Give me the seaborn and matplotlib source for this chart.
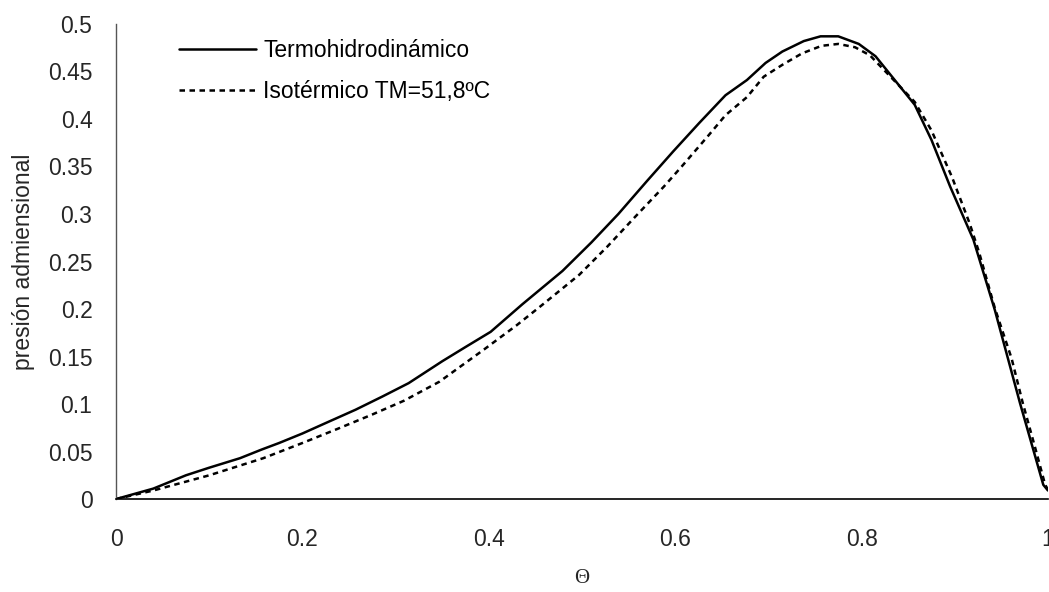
import seaborn as sns
import pandas as pd
import matplotlib.pyplot as plt

# solid curve: thermohydrodynamic solution
theta_thd = [0.0, 0.04, 0.075, 0.10, 0.133, 0.156, 0.175, 0.20, 0.225, 0.257,
             0.286, 0.314, 0.35, 0.375, 0.402, 0.436, 0.479, 0.51, 0.539, 0.57,
             0.598, 0.626, 0.654, 0.677, 0.697, 0.715, 0.738, 0.756, 0.775,
             0.797, 0.815, 0.857, 0.875, 0.895, 0.92, 0.943, 0.97, 0.995, 1.0]
p_thd = [0.0, 0.011, 0.025, 0.033, 0.043, 0.052, 0.059, 0.069, 0.080, 0.094,
         0.108, 0.122, 0.145, 0.160, 0.176, 0.205, 0.240, 0.270, 0.300, 0.335,
         0.366, 0.396, 0.425, 0.441, 0.459, 0.471, 0.482, 0.487, 0.487,
         0.479, 0.466, 0.415, 0.378, 0.329, 0.273, 0.199, 0.101, 0.015, 0.009]

# dashed curve: isothermal solution
theta_iso = [0.0, 0.04, 0.10, 0.158, 0.20, 0.238, 0.275, 0.309, 0.347, 0.395,
             0.43, 0.455, 0.497, 0.527, 0.557, 0.588, 0.607, 0.636, 0.654,
             0.677, 0.695, 0.715, 0.736, 0.757, 0.775, 0.793, 0.809, 0.857,
             0.875, 0.897, 0.916, 0.926, 0.943, 0.961, 0.973, 0.986, 0.997, 1.0]
p_iso = [0.0, 0.009, 0.025, 0.043, 0.059, 0.074, 0.089, 0.1035, 0.1235, 0.1575,
         0.183, 0.2025, 0.236, 0.2655, 0.297, 0.329, 0.350, 0.383, 0.404,
         0.423, 0.4445, 0.457, 0.469, 0.477, 0.479, 0.4755, 0.467, 0.418,
         0.388, 0.339, 0.29, 0.26, 0.201, 0.148, 0.101, 0.055, 0.015, 0.01]

label_thd = 'Termohidrodinámico'
label_iso = 'Isotérmico TM=51,8ºC'

df = pd.concat([
    pd.DataFrame({'theta': theta_thd, 'p': p_thd, 'serie': label_thd}),
    pd.DataFrame({'theta': theta_iso, 'p': p_iso, 'serie': label_iso}),
])

sns.set_style('white')
plt.rcParams['font.family'] = ['Liberation Sans', 'DejaVu Sans']

fig = plt.figure(figsize=(10.49, 5.92), dpi=100)
ax = fig.add_axes([0.1106, 0.157, 0.8884, 0.8025])

sns.lineplot(data=df, x='theta', y='p', hue='serie', style='serie',
             palette=['black', 'black'], dashes=[(), (2.2, 1.8)],
             sort=False, estimator=None, linewidth=1.8, ax=ax)

ax.set_xlim(0, 1)
ax.set_ylim(0, 0.5)
ax.set_xticks([0, 0.2, 0.4, 0.6, 0.8, 1])
ax.set_xticklabels(['0', '0.2', '0.4', '0.6', '0.8', '1'])
ax.set_yticks([i * 0.05 for i in range(11)])
ax.set_yticklabels(['0', '0.05', '0.1', '0.15', '0.2', '0.25', '0.3',
                    '0.35', '0.4', '0.45', '0.5'])
ax.tick_params(axis='both', labelsize=16.5, length=7, width=1,
               color='#555555', direction='out', pad=8)
ax.tick_params(axis='y', pad=10)
ax.tick_params(axis='x', pad=14)

sns.despine(ax=ax)
ax.spines['left'].set_color('#555555')
ax.spines['bottom'].set_color('black')
ax.spines['left'].set_linewidth(1)
ax.spines['bottom'].set_linewidth(1.2)

ax.set_xlabel('Θ', fontsize=15, family=['Liberation Serif', 'DejaVu Serif'],
              labelpad=13)
ax.set_ylabel('presión admiensional', fontsize=16.5, labelpad=9)

leg = ax.legend(loc='upper left', bbox_to_anchor=(0.045, 1.012), frameon=False,
                fontsize=16.5, handlelength=3.4, handletextpad=0.3,
                labelspacing=0.8)
for t in leg.get_texts():
    t.set_color('black')

fig.savefig('out.png', dpi=100)
